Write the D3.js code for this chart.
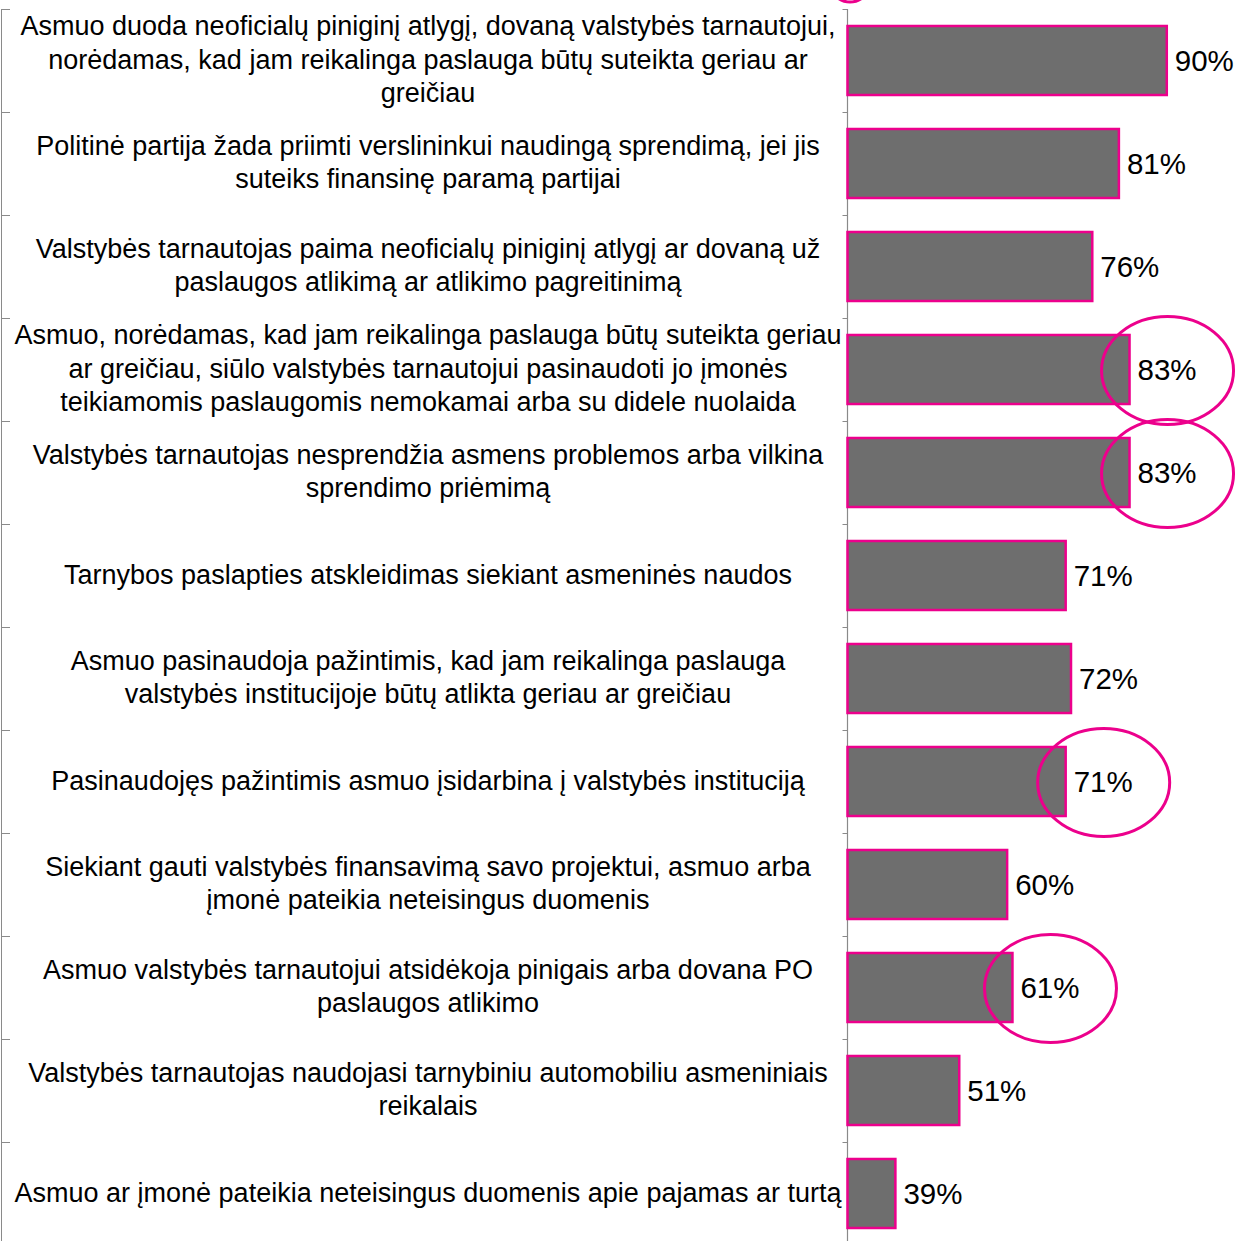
<!DOCTYPE html>
<html>
<head>
<meta charset="utf-8">
<script src="https://cdn.jsdelivr.net/npm/d3@7"></script>
<style>
  body { margin: 0; background: #fff; }
  svg { display: block; font-family: "Liberation Sans", Arial, sans-serif; }
</style>
</head>
<body>
<div id="chart"></div>
<script>
const labels = [
  ["Asmuo duoda neoficialų piniginį atlygį, dovaną valstybės tarnautojui,", "norėdamas, kad jam reikalinga paslauga būtų suteikta geriau ar", "greičiau"],
  ["Politinė partija žada priimti verslininkui naudingą sprendimą, jei jis", "suteiks finansinę paramą partijai"],
  ["Valstybės tarnautojas paima neoficialų piniginį atlygį ar dovaną už", "paslaugos atlikimą ar atlikimo pagreitinimą"],
  ["Asmuo, norėdamas, kad jam reikalinga paslauga būtų suteikta geriau", "ar greičiau, siūlo valstybės tarnautojui pasinaudoti jo įmonės", "teikiamomis paslaugomis nemokamai arba su didele nuolaida"],
  ["Valstybės tarnautojas nesprendžia asmens problemos arba vilkina", "sprendimo priėmimą"],
  ["Tarnybos paslapties atskleidimas siekiant asmeninės naudos"],
  ["Asmuo pasinaudoja pažintimis, kad jam reikalinga paslauga", "valstybės institucijoje būtų atlikta geriau ar greičiau"],
  ["Pasinaudojęs pažintimis asmuo įsidarbina į valstybės instituciją"],
  ["Siekiant gauti valstybės finansavimą savo projektui, asmuo arba", "įmonė pateikia neteisingus duomenis"],
  ["Asmuo valstybės tarnautojui atsidėkoja pinigais arba dovana PO", "paslaugos atlikimo"],
  ["Valstybės tarnautojas naudojasi tarnybiniu automobiliu asmeniniais", "reikalais"],
  ["Asmuo ar įmonė pateikia neteisingus duomenis apie pajamas ar turtą"]
];
const values = [90, 81, 76, 83, 83, 71, 72, 71, 60, 61, 51, 39];
const circled = [3, 4, 7, 9];
const xDomain = [30, 100];

const width = 1236, height = 1241;
const axisX = 847.5;
const labelCenter = 428;
const pink = "#ec008c";

const data = values.map((v, i) => ({i, v, lines: labels[i]}));

const svg = d3.select("#chart").append("svg")
  .attr("width", width)
  .attr("height", height);

const x = d3.scaleLinear().domain(xDomain).range([axisX, 1220]);
const y = d3.scaleBand()
  .domain(d3.range(values.length))
  .range([9, 1245])
  .paddingInner(0.33)
  .paddingOuter(0.165);

// left frame line with category ticks
const step = y.step();
const bounds = d3.range(values.length + 1).map(k => 9 + k * step);

svg.append("line")
  .attr("x1", 1.5).attr("x2", 1.5)
  .attr("y1", 9).attr("y2", height)
  .attr("stroke", "#8a8a8a").attr("stroke-width", 1);
svg.append("g").selectAll("line")
  .data(bounds)
  .join("line")
    .attr("x1", 1).attr("x2", 10)
    .attr("y1", d => d + 0.5).attr("y2", d => d + 0.5)
    .attr("stroke", "#8a8a8a").attr("stroke-width", 1);

// category axis at bar base
svg.append("line")
  .attr("x1", axisX).attr("x2", axisX)
  .attr("y1", 9).attr("y2", height)
  .attr("stroke", "#8a8a8a").attr("stroke-width", 1.2);
svg.append("g").selectAll("line")
  .data(bounds)
  .join("line")
    .attr("x1", axisX - 5).attr("x2", axisX)
    .attr("y1", d => d + 0.5).attr("y2", d => d + 0.5)
    .attr("stroke", "#8a8a8a").attr("stroke-width", 1);

// category labels
const lineH = 33.5;
svg.append("g").selectAll("text")
  .data(data)
  .join("text")
    .attr("text-anchor", "middle")
    .attr("font-size", 27)
    .attr("fill", "#000")
    .each(function(d) {
      const cy = y(d.i) + y.bandwidth() / 2;
      const n = d.lines.length;
      d3.select(this).selectAll("tspan")
        .data(d.lines)
        .join("tspan")
          .attr("x", labelCenter)
          .attr("y", (l, j) => cy + (j - (n - 1) / 2) * lineH + 8)
          .text(l => l);
    });

// bars
svg.append("g").selectAll("rect")
  .data(data)
  .join("rect")
    .attr("x", x(xDomain[0]))
    .attr("y", d => y(d.i))
    .attr("width", d => x(d.v) - x(xDomain[0]))
    .attr("height", y.bandwidth())
    .attr("fill", "#6e6e6e")
    .attr("stroke", pink)
    .attr("stroke-width", 2.5);

// value labels
svg.append("g").selectAll("text")
  .data(data)
  .join("text")
    .attr("x", d => x(d.v) + 8)
    .attr("y", d => y(d.i) + y.bandwidth() / 2 + 10)
    .attr("font-size", 29.5)
    .attr("fill", "#000")
    .text(d => d.v + "%");

// annotation ellipses around selected values
svg.append("g").selectAll("ellipse")
  .data(data.filter(d => circled.includes(d.i)))
  .join("ellipse")
    .attr("cx", d => x(d.v) + 8 + 30)
    .attr("cy", d => y(d.i) + y.bandwidth() / 2 + 1)
    .attr("rx", 66)
    .attr("ry", 54)
    .attr("fill", "none")
    .attr("stroke", pink)
    .attr("stroke-width", 3);

// leftover edge of an ellipse cut off at the top
svg.append("ellipse")
  .attr("cx", 850).attr("cy", -30)
  .attr("rx", 25).attr("ry", 32)
  .attr("fill", "none")
  .attr("stroke", pink)
  .attr("stroke-width", 3);
</script>
</body>
</html>
